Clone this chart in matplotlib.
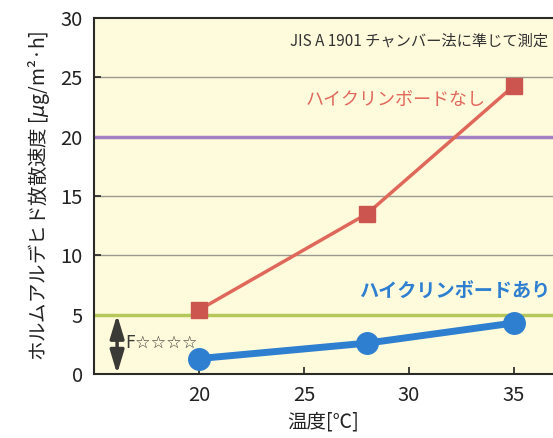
import matplotlib.pyplot as plt
import numpy as np

plt.rcParams["font.family"] = ["Noto Sans CJK JP", "DejaVu Sans"]

# temperature [C]
temps = [20, 28, 35]
# emission rate without / with Hi-Clean board
without_board = [5.4, 13.5, 24.3]
with_board = [1.3, 2.6, 4.3]

xticks = [20, 25, 30, 35]
yticks = [0, 5, 10, 15, 20, 25, 30]
grid_levels = [10, 15, 25]
limit_20 = 20
limit_fstar = 5

fig = plt.figure(figsize=(5.53, 4.38), dpi=100)
ax = fig.add_axes([94 / 553, (438 - 374) / 438, (553 - 94) / 553, (374 - 18) / 438])
ax.set_facecolor("#fefbdc")

for g in grid_levels:
    ax.axhline(g, color="#9a9a90", lw=1.0, zorder=1)
ax.axhline(limit_20, color="#a57fc4", lw=2.5, zorder=2)
ax.axhline(limit_fstar, color="#b6c85a", lw=2.5, zorder=2)

ax.plot(temps, without_board, color="#e0685a", lw=2.5, zorder=3)
ax.plot(temps, without_board, ls="none", marker="s", ms=11, color="#cc5550", zorder=4)
ax.plot(temps, with_board, color="#2f7fd0", lw=5, marker="o", ms=15.5, zorder=4)

ax.annotate("", xy=(16.1, 0.0), xytext=(16.1, 5.0),
            arrowprops=dict(arrowstyle="<|-|>,head_length=1.0,head_width=0.3",
                            color="#3a3a36", lw=2.5, mutation_scale=14,
                            shrinkA=0, shrinkB=0))
ax.text(16.5, 2.6, "F☆☆☆☆", fontsize=12.5, color="#3a3a36", va="center",
        family=["DejaVu Sans"])

ax.text(36.62, 28.05, "JIS A 1901 チャンバー法に準じて測定", fontsize=11,
        color="#333333", ha="right", va="center")
ax.text(25.1, 23.1, "ハイクリンボードなし", fontsize=13, color="#e0685a",
        ha="left", va="center")
ax.text(27.6, 6.9, "ハイクリンボードあり", fontsize=13.8, color="#2f7fd0",
        ha="left", va="center", fontweight="bold")

ax.set_xlim(15, 15 + (553 - 94) / 21)
ax.set_ylim(0, 30)
ax.set_xticks(xticks)
ax.set_yticks(yticks)
ax.tick_params(direction="in", length=5, width=1.2, labelsize=14.5, colors="#222222")
ax.tick_params(axis="x", pad=8)
ax.tick_params(axis="y", pad=8)
for s in ["left", "bottom", "top"]:
    ax.spines[s].set_color("#2a2a26")
    ax.spines[s].set_linewidth(1.5)
ax.spines["right"].set_visible(False)

ax.set_xlabel("温度[℃]", fontsize=14, color="#222222", labelpad=4)
ax.set_ylabel("ホルムアルデヒド放散速度 [$\\mu$g/m²·h]", fontsize=14,
              color="#222222", labelpad=6)

fig.savefig("out.png", dpi=100)
